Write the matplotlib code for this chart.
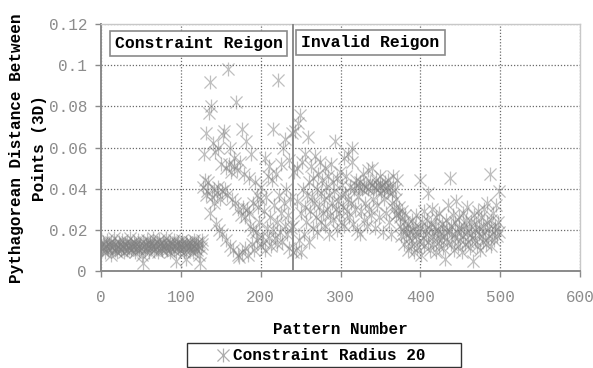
import numpy as np
import matplotlib
matplotlib.use("Agg")
import matplotlib.pyplot as plt
from matplotlib.path import Path
from matplotlib.lines import Line2D
from matplotlib.patches import Rectangle

# Distance values in thousandths, one per pattern, grouped by pattern range
dist_000_127 = [
    12, 10, 14, 11, 13, 9, 12, 15, 11, 10,
    13, 12, 8, 14, 11, 12, 16, 10, 13, 11,
    9, 12, 14, 11, 13, 10, 15, 12, 11, 9,
    13, 12, 10, 14, 12, 11, 16, 13, 10, 12,
    11, 14, 9, 12, 13, 11, 15, 10, 12, 13,
    11, 8, 14, 4, 12, 10, 13, 15, 11, 12,
    9, 13, 14, 11, 12, 16, 10, 13, 12, 11,
    14, 9, 12, 15, 13, 11, 12, 10, 14, 13,
    12, 11, 16, 10, 13, 12, 9, 14, 11, 13,
    12, 15, 10, 12, 5, 13, 11, 14, 12, 10,
    13, 12, 15, 11, 9, 12, 14, 6, 13, 12,
    11, 14, 10, 12, 13, 9, 15, 12, 11, 13,
    10, 14, 12, 8, 4, 11, 13, 15,
]
dist_128_239 = [
    41, 57, 44, 37, 67, 39, 43, 77, 28, 92,
    80, 36, 62, 40, 33, 58, 23, 38, 60, 41,
    20, 35, 52, 39, 18, 66, 68, 40, 50, 15,
    37, 98, 52, 12, 60, 48, 35, 10, 51, 55,
    33, 82, 49, 8, 30, 7, 53, 27, 69, 9,
    31, 47, 26, 11, 63, 30, 8, 28, 45, 22,
    57, 13, 20, 33, 10, 43, 19, 37, 15, 31,
    24, 35, 12, 41, 17, 14, 29, 10, 55, 36,
    21, 46, 16, 51, 26, 12, 44, 20, 69, 32,
    16, 47, 24, 13, 93, 37, 19, 28, 52, 14,
    60, 33, 22, 64, 40, 18, 27, 54, 11, 35,
    21, 67,
]
dist_240_369 = [
    9, 22, 48, 68, 10, 34, 50, 72, 15, 76,
    28, 9, 53, 40, 18, 31, 57, 24, 37, 65,
    14, 43, 29, 51, 36, 21, 45, 33, 56, 26,
    40, 19, 47, 31, 53, 24, 38, 44, 28, 35,
    50, 22, 41, 30, 46, 18, 37, 27, 52, 33,
    43, 25, 39, 63, 30, 20, 45, 34, 28, 48,
    37, 24, 42, 31, 55, 22, 38, 46, 29, 35,
    57, 26, 41, 33, 60, 53, 23, 40, 30, 44,
    42, 20, 36, 41, 18, 43, 29, 40, 47, 25,
    42, 33, 41, 22, 49, 40, 30, 43, 27, 42,
    50, 35, 41, 21, 44, 40, 32, 42, 26, 41,
    46, 38, 42, 19, 40, 35, 43, 28, 41, 39,
    44, 24, 41, 18, 38, 33, 46, 30, 40, 27,
]
dist_370_499 = [
    35, 44, 28, 31, 22, 26, 17, 29, 20, 24,
    13, 27, 18, 21, 10, 23, 16, 19, 12, 25,
    15, 20, 9, 22, 17, 27, 11, 19, 14, 44,
    21, 8, 24, 16, 29, 12, 20, 18, 25, 38,
    14, 21, 10, 23, 17, 30, 13, 19, 22, 9,
    26, 16, 20, 12, 28, 18, 15, 23, 11, 21,
    17, 6, 25, 19, 14, 32, 20, 45, 13, 22,
    18, 27, 10, 24, 16, 34, 19, 12, 21, 26,
    15, 20, 9, 28, 17, 22, 13, 25, 19, 31,
    14, 21, 11, 18, 24, 16, 5, 27, 20, 15,
    23, 12, 29, 18, 21, 10, 26, 17, 22, 14,
    30, 19, 13, 24, 33, 16, 21, 47, 12, 25,
    18, 28, 15, 22, 20, 32, 17, 24, 39, 19,
]

x_ticks = [0, 100, 200, 300, 400, 500, 600]
y_ticks = [0, 0.02, 0.04, 0.06, 0.08, 0.1, 0.12]
y_tick_labels = ["0", "0.02", "0.04", "0.06", "0.08", "0.1", "0.12"]
region_boundary = 240
series_name = "Constraint Radius 20"

distance = np.array(dist_000_127 + dist_128_239 + dist_240_369 + dist_370_499) / 1000.0
pattern = np.arange(len(distance))

MONO = "Liberation Mono"
plt.rcParams["font.family"] = [MONO, "DejaVu Sans Mono"]

W, H = 593, 368

# Six-armed asterisk marker: an X crossed by a vertical stroke
star_path = Path(
    [(-1, -1), (1, 1), (-1, 1), (1, -1), (0, -1.15), (0, 1.15)],
    [Path.MOVETO, Path.LINETO] * 3,
)

fig = plt.figure(figsize=(W / 100, H / 100), dpi=100)
ax = fig.add_axes([101 / W, 1 - 271 / H, (580 - 101) / W, (271 - 24) / H])

marker_color = (0.5, 0.5, 0.5, 0.5)
ax.plot(pattern, distance, linestyle="none", marker=star_path, markersize=10,
        markerfacecolor="none", markeredgecolor=marker_color, markeredgewidth=0.9,
        zorder=3)

ax.axvline(region_boundary, color="#8a8a8a", lw=1.4, zorder=4)

ax.set_xlim(0, 600)
ax.set_ylim(0, 0.12)
ax.set_xticks(x_ticks)
ax.set_yticks(y_ticks)
ax.set_yticklabels(y_tick_labels)
ax.tick_params(axis="both", direction="out", length=4, width=1, color="#8a8a8a",
               labelcolor="#8c8c8c", labelsize=11.5)
ax.tick_params(axis="x", pad=10)
ax.tick_params(axis="y", pad=6)

ax.grid(True, color="#6a6a6a", linestyle=(0, (1, 1.5)), linewidth=0.9, zorder=1)
for side in ("top", "right"):
    ax.spines[side].set_color("#c8c8c8")
    ax.spines[side].set_linewidth(1.0)
for side in ("left", "bottom"):
    ax.spines[side].set_color("#8a8a8a")
    ax.spines[side].set_linewidth(1.4)

box_style = dict(boxstyle="square,pad=0.3", facecolor="white", edgecolor="#8a8a8a", linewidth=1.2)
ax.text(17, 0.1106, "Constraint Reigon", fontsize=11.8, fontweight="bold", ha="left",
        va="center", bbox=box_style, zorder=5)
ax.text(251, 0.1110, "Invalid Reigon", fontsize=11.8, fontweight="bold", ha="left",
        va="center", bbox=box_style, zorder=5)

fig.text(340 / W, 1 - 330 / H, "Pattern Number", fontsize=11.5, fontweight="bold",
         ha="center", va="center")
fig.text(28 / W, 1 - 148 / H, "Pythagorean Distance Between\nPoints (3D)", fontsize=11.5,
         fontweight="bold", ha="center", va="center", rotation=90, linespacing=1.6,
         multialignment="center")

# Legend box drawn in figure pixels
fig.patches.append(Rectangle((187 / W, 1 - 367 / H), (461 - 187) / W, (367 - 343) / H,
                             transform=fig.transFigure, facecolor="white",
                             edgecolor="#333333", linewidth=1.0))
fig.add_artist(Line2D([223 / W], [1 - 355 / H], transform=fig.transFigure,
                      linestyle="none", marker=star_path, markersize=10,
                      markerfacecolor="none", markeredgecolor=(0.6, 0.6, 0.6, 0.8),
                      markeredgewidth=0.9))
fig.text(233 / W, 1 - 355 / H, series_name, fontsize=11.5, fontweight="bold",
         ha="left", va="center")

fig.savefig("out.png", dpi=100)
